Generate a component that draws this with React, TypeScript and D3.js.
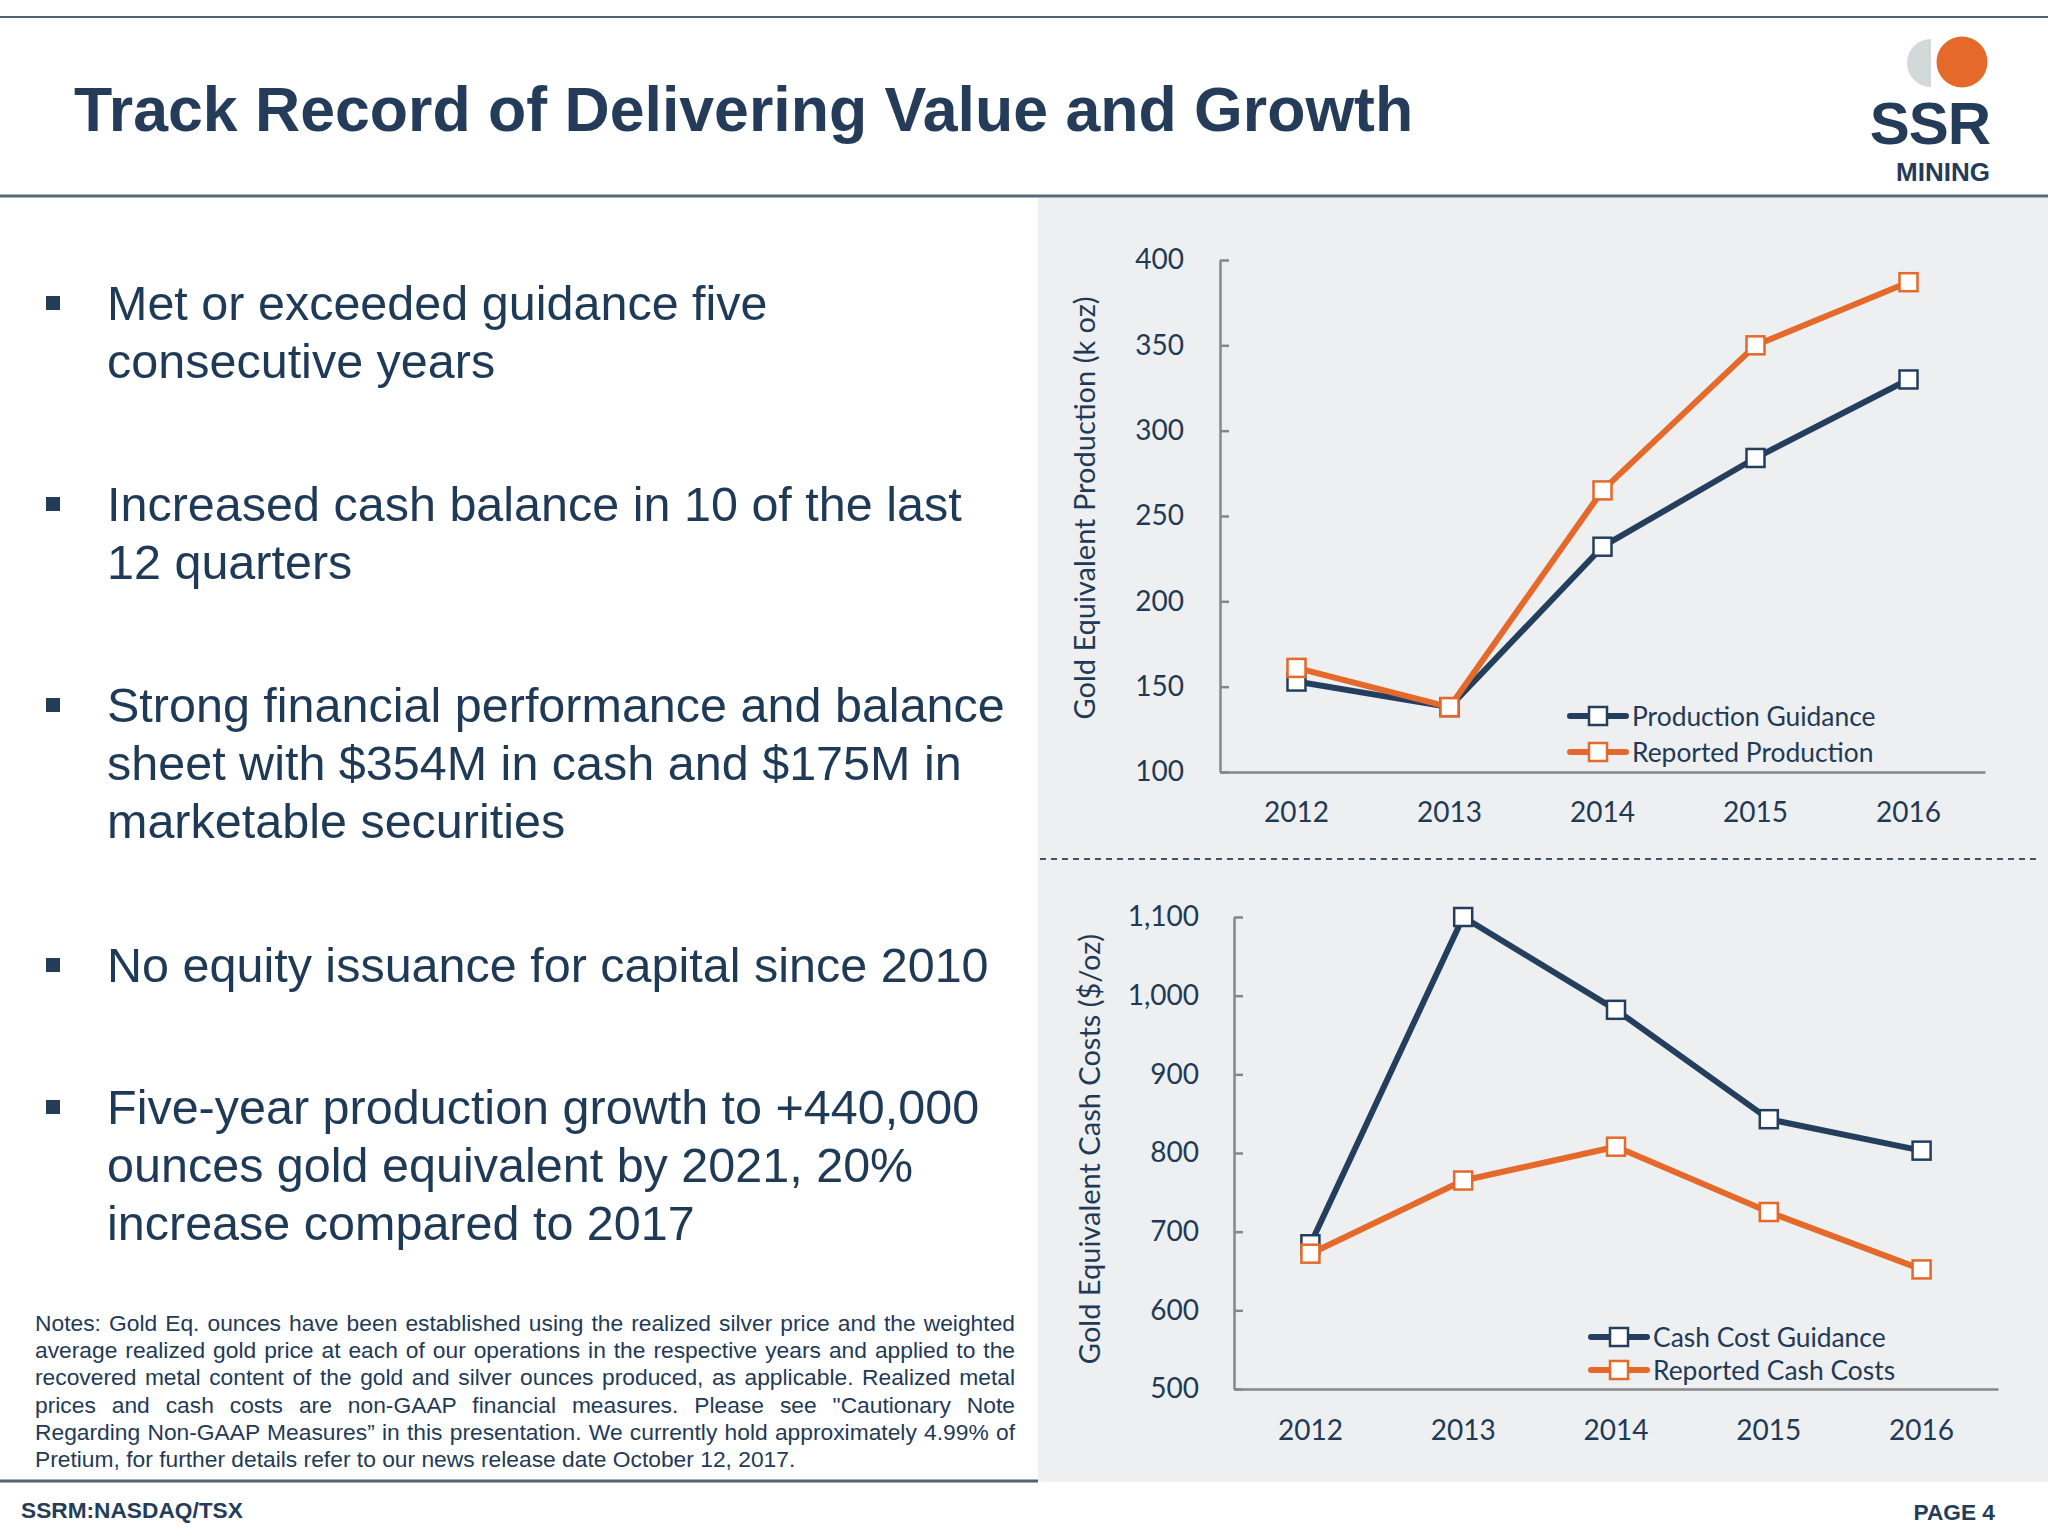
import React, { useEffect, useRef } from 'react';
import * as d3 from 'd3';

const years = ['2012', '2013', '2014', '2015', '2016'];
const productionGuidance = [153, 138, 232, 284, 330];
const reportedProduction = [161, 138, 265, 350, 387];
const cashCostGuidance = [684, 1100, 982, 843, 803];
const reportedCashCosts = [672, 765, 808, 725, 652];
const productionTicks = [100, 150, 200, 250, 300, 350, 400];
const cashCostTicks = [500, 600, 700, 800, 900, 1000, 1100];

const bullets = [
  ['Met or exceeded guidance five', 'consecutive years'],
  ['Increased cash balance in 10 of the last', '12 quarters'],
  ['Strong financial performance and balance', 'sheet with $354M in cash and $175M in', 'marketable securities'],
  ['No equity issuance for capital since 2010'],
  ['Five-year production growth to +440,000', 'ounces gold equivalent by 2021, 20%', 'increase compared to 2017'],
];

const notes = [
  'Notes: Gold Eq. ounces have been established using the realized silver price and the weighted',
  'average realized gold price at each of our operations in the respective years and applied to the',
  'recovered metal content of the gold and silver ounces produced, as applicable. Realized metal',
  'prices and cash costs are non-GAAP financial measures. Please see "Cautionary Note',
  'Regarding Non-GAAP Measures\u201d in this presentation. We currently hold approximately 4.99% of',
  'Pretium, for further details refer to our news release date October 12, 2017.',
];

const NAVY = '#243f5e';
const ORANGE = '#e4692a';
const TEXT = '#1f3a57';
const AXIS = '#878787';
const CHART_FONT = 'Lato, "Open Sans", sans-serif';
const ARIAL = '"Liberation Sans", Arial, sans-serif';

interface Series { name: string; values: number[]; color: string; }

interface ChartOpts {
  left: number; right: number; top: number; bottom: number;
  domain: [number, number]; ticks: number[];
  series: Series[];
  yTitle: string; titleX: number; titleY: number;
  legendX: number; legendY: number[];
  labelPad: number; xPad: number;
}

function drawChart(svg: d3.Selection<SVGSVGElement, unknown, null, undefined>, o: ChartOpts) {
  const g = svg.append('g');
  const x = d3.scaleBand<string>().domain(years).range([o.left, o.right]);
  const y = d3.scaleLinear().domain(o.domain).range([o.bottom, o.top]);
  const cx = (i: number) => (x(years[i]) as number) + x.bandwidth() / 2;

  const yAxis = g.append('g')
    .attr('transform', `translate(${o.left},0)`)
    .call(d3.axisLeft(y).tickValues(o.ticks).tickSizeInner(-9).tickSizeOuter(0)
      .tickPadding(o.labelPad).tickFormat(d3.format(',')));
  yAxis.select('.domain').attr('stroke', AXIS).attr('stroke-width', 2.5);
  yAxis.selectAll('.tick line').attr('stroke', AXIS).attr('stroke-width', 2.5);
  yAxis.selectAll('text').attr('fill', TEXT).attr('font-size', 28).attr('font-family', CHART_FONT);

  const xAxis = g.append('g')
    .attr('transform', `translate(0,${o.bottom})`)
    .call(d3.axisBottom(x).tickSize(0).tickPadding(o.xPad));
  xAxis.select('.domain').attr('stroke', AXIS).attr('stroke-width', 2.5);
  xAxis.selectAll('text').attr('fill', TEXT).attr('font-size', 28).attr('font-family', CHART_FONT);

  g.append('text')
    .attr('transform', `translate(${o.titleX},${o.titleY}) rotate(-90)`)
    .attr('text-anchor', 'middle')
    .attr('dominant-baseline', 'central')
    .attr('fill', TEXT)
    .attr('font-size', 29)
    .attr('font-family', CHART_FONT)
    .text(o.yTitle);

  const line = d3.line<number>().x((d, i) => cx(i)).y(d => y(d));

  o.series.forEach(s => {
    g.append('path')
      .datum(s.values)
      .attr('d', line)
      .attr('fill', 'none')
      .attr('stroke', s.color)
      .attr('stroke-width', 6)
      .attr('stroke-linejoin', 'round')
      .attr('stroke-linecap', 'round');
    g.selectAll(null)
      .data(s.values)
      .enter()
      .append('rect')
      .attr('x', (d, i) => cx(i) - 9)
      .attr('y', d => y(d) - 9)
      .attr('width', 18)
      .attr('height', 18)
      .attr('fill', '#fff')
      .attr('stroke', s.color)
      .attr('stroke-width', 2.5);
  });

  // legend
  o.series.forEach((s, i) => {
    const ly = o.legendY[i];
    const lg = g.append('g');
    lg.append('line')
      .attr('x1', o.legendX).attr('x2', o.legendX + 56)
      .attr('y1', ly).attr('y2', ly)
      .attr('stroke', s.color).attr('stroke-width', 6).attr('stroke-linecap', 'round');
    lg.append('rect')
      .attr('x', o.legendX + 28 - 9).attr('y', ly - 9)
      .attr('width', 18).attr('height', 18)
      .attr('fill', '#fff').attr('stroke', s.color).attr('stroke-width', 2.5);
    lg.append('text')
      .attr('x', o.legendX + 62).attr('y', ly)
      .attr('dominant-baseline', 'central')
      .attr('fill', TEXT).attr('font-size', 26.4).attr('font-family', CHART_FONT)
      .text(s.name);
  });
}

const App: React.FC = () => {
  const ref = useRef<SVGSVGElement>(null);

  useEffect(() => {
    if (!ref.current) return;
    document.body.style.margin = '0';
    const svg = d3.select(ref.current);
    svg.selectAll('*').remove();

    svg.append('rect').attr('width', 2048).attr('height', 1536).attr('fill', '#fff');
    // right panel
    svg.append('rect').attr('x', 1038).attr('y', 198).attr('width', 1010).attr('height', 1284).attr('fill', '#eeeff0');

    // header lines
    svg.append('line').attr('x1', 0).attr('x2', 2048).attr('y1', 17).attr('y2', 17)
      .attr('stroke', '#4f6378').attr('stroke-width', 2);
    svg.append('line').attr('x1', 0).attr('x2', 2048).attr('y1', 196).attr('y2', 196)
      .attr('stroke', '#55697e').attr('stroke-width', 3);
    // footer line
    svg.append('line').attr('x1', 0).attr('x2', 1038).attr('y1', 1481).attr('y2', 1481)
      .attr('stroke', '#4f6378').attr('stroke-width', 3);
    // dashed separator
    svg.append('line').attr('x1', 1040).attr('x2', 2040).attr('y1', 859).attr('y2', 859)
      .attr('stroke', '#3c5470').attr('stroke-width', 2).attr('stroke-dasharray', '6,5');

    // title
    svg.append('text').attr('x', 74).attr('y', 131)
      .attr('fill', '#243c59').attr('font-size', 62.6).attr('font-weight', 'bold').attr('font-family', ARIAL)
      .text('Track Record of Delivering Value and Growth');

    // logo
    const logo = svg.append('g');
    logo.append('path')
      .attr('d', d3.arc()({ innerRadius: 0, outerRadius: 24, startAngle: Math.PI, endAngle: 2 * Math.PI }) as string)
      .attr('transform', 'translate(1931,63)')
      .attr('fill', '#d3d8d9');
    logo.append('circle').attr('cx', 1962).attr('cy', 62).attr('r', 25.5).attr('fill', '#e4692a');
    logo.append('text').attr('x', 1990).attr('y', 144).attr('text-anchor', 'end')
      .attr('fill', '#243c59').attr('font-size', 60).attr('font-weight', 'bold').attr('font-family', ARIAL)
      .attr('letter-spacing', -1)
      .text('SSR');
    logo.append('text').attr('x', 1990).attr('y', 181).attr('text-anchor', 'end')
      .attr('fill', '#243c59').attr('font-size', 26).attr('font-weight', 'bold').attr('font-family', ARIAL)
      .text('MINING');

    // bullets
    const bulletTops = [320, 521, 722, 982, 1124];
    bullets.forEach((lines, bi) => {
      const by = bulletTops[bi];
      svg.append('rect').attr('x', 46).attr('y', by - 24).attr('width', 14).attr('height', 14).attr('fill', '#243c59');
      lines.forEach((t, li) => {
        svg.append('text').attr('x', 107).attr('y', by + li * 58)
          .attr('fill', TEXT).attr('font-size', 48.5).attr('font-family', ARIAL)
          .text(t);
      });
    });

    // notes (justified)
    notes.forEach((t, i) => {
      const txt = svg.append('text').attr('x', 35).attr('y', 1331 + i * 27.2)
        .attr('fill', TEXT).attr('font-size', 22.8).attr('font-family', ARIAL)
        .attr('xml:space', 'preserve')
        .text(t);
      if (i < notes.length - 1) {
        const node = txt.node() as SVGTextElement;
        const w = node.getComputedTextLength();
        const spaces = (t.match(/ /g) || []).length;
        if (spaces > 0) txt.attr('word-spacing', (980 - w) / spaces);
      }
    });

    // footer
    svg.append('text').attr('x', 21).attr('y', 1518)
      .attr('fill', '#243c59').attr('font-size', 22.7).attr('font-weight', 'bold').attr('font-family', ARIAL)
      .text('SSRM:NASDAQ/TSX');
    svg.append('text').attr('x', 1995).attr('y', 1520).attr('text-anchor', 'end')
      .attr('fill', '#243c59').attr('font-size', 22.7).attr('font-weight', 'bold').attr('font-family', ARIAL)
      .text('PAGE 4');

    drawChart(svg, {
      left: 1220, right: 1985, top: 260, bottom: 772,
      domain: [100, 400], ticks: productionTicks,
      series: [
        { name: 'Production Guidance', values: productionGuidance, color: NAVY },
        { name: 'Reported Production', values: reportedProduction, color: ORANGE },
      ],
      yTitle: 'Gold Equivalent Production (k oz)', titleX: 1083, titleY: 508,
      legendX: 1570, legendY: [716, 752],
      labelPad: 36, xPad: 30,
    });

    drawChart(svg, {
      left: 1234, right: 1998, top: 917, bottom: 1389,
      domain: [500, 1100], ticks: cashCostTicks,
      series: [
        { name: 'Cash Cost Guidance', values: cashCostGuidance, color: NAVY },
        { name: 'Reported Cash Costs', values: reportedCashCosts, color: ORANGE },
      ],
      yTitle: 'Gold Equivalent Cash Costs ($/oz)', titleX: 1088, titleY: 1149,
      legendX: 1591, legendY: [1337, 1370],
      labelPad: 35, xPad: 31,
    });
  }, []);

  return <svg ref={ref} width={2048} height={1536} style={{ display: 'block' }} />;
};

export default App;
